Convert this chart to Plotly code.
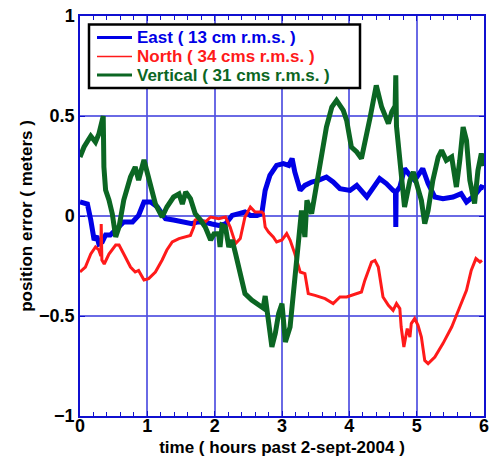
import plotly.graph_objects as go

# ---- data (hours, metres) ----
east_t = [0.0, 0.11, 0.16, 0.21, 0.25, 0.28, 0.33, 0.38, 0.45, 0.53, 0.65, 0.78, 0.87, 0.95, 1.05,
          1.15, 1.27, 1.39, 1.54, 1.66, 1.74, 1.84, 1.96, 2.06, 2.16, 2.26, 2.36, 2.45, 2.53, 2.63,
          2.70, 2.75, 2.82, 2.92, 3.02, 3.10, 3.15, 3.19, 3.27, 3.34, 3.44, 3.54, 3.66, 3.76, 3.86,
          4.01, 4.11, 4.26, 4.45, 4.55, 4.65, 4.685, 4.69, 4.695, 4.75, 4.82, 4.90, 4.97, 5.09,
          5.17, 5.27, 5.39, 5.54, 5.66, 5.74, 5.86, 5.96, 6.0]
east_v = [0.07, 0.06, -0.02, -0.12, -0.10, -0.14, -0.13, -0.095, -0.095, -0.07, -0.03, -0.03, 0.003,
          0.07, 0.07, 0.045, -0.013, -0.02, -0.03, -0.038, -0.03, -0.03, -0.04, -0.047, -0.04,
          0.003, 0.012, 0.02, 0.003, 0.003, 0.012, 0.128, 0.203, 0.253, 0.262, 0.253, 0.287, 0.22,
          0.128, 0.153, 0.17, 0.178, 0.195, 0.17, 0.137, 0.128, 0.153, 0.095, 0.187, 0.162, 0.128,
          0.12, -0.055, 0.12, 0.145, 0.237, 0.203, 0.178, 0.237, 0.162, 0.095, 0.087, 0.095, 0.112,
          0.07, 0.103, 0.145, 0.14]

north_t = [0.0, 0.08, 0.16, 0.23, 0.28, 0.31, 0.315, 0.325, 0.36, 0.43, 0.53, 0.58, 0.65, 0.75,
           0.82, 0.87, 0.95, 1.02, 1.12, 1.22, 1.29, 1.37, 1.47, 1.54, 1.64, 1.69, 1.71, 1.76,
           1.86, 1.94, 2.06, 2.16, 2.23, 2.31, 2.38, 2.45, 2.53, 2.60, 2.70, 2.725, 2.75, 2.80,
           2.87, 2.92, 3.0, 3.07, 3.12, 3.19, 3.27, 3.34, 3.39, 3.49, 3.64, 3.76, 3.86, 3.96, 4.11,
           4.18, 4.23, 4.33, 4.38, 4.43, 4.50, 4.58, 4.65, 4.70, 4.75, 4.77, 4.81, 4.86, 4.90,
           4.92, 4.97, 5.02, 5.07, 5.12, 5.17, 5.27, 5.39, 5.52, 5.64, 5.74, 5.81, 5.88, 5.94, 5.97]
north_v = [-0.28, -0.255, -0.19, -0.155, -0.17, -0.2, -0.04, -0.22, -0.24, -0.19, -0.145, -0.145,
           -0.19, -0.255, -0.28, -0.272, -0.32, -0.313, -0.28, -0.22, -0.17, -0.13, -0.113, -0.105,
           -0.097, -0.055, -0.02, -0.013, -0.03, -0.005, -0.013, -0.005, -0.055, -0.138, -0.113,
           -0.005, 0.045, 0.02, 0.02, 0.012, -0.055, -0.08, -0.105, -0.13, -0.12, -0.088, -0.12,
           -0.188, -0.28, -0.288, -0.388, -0.397, -0.413, -0.438, -0.405, -0.405, -0.388, -0.38,
           -0.322, -0.23, -0.222, -0.255, -0.405, -0.447, -0.472, -0.438, -0.463, -0.555, -0.655,
           -0.563, -0.605, -0.538, -0.513, -0.547, -0.605, -0.722, -0.738, -0.705, -0.638, -0.555,
           -0.455, -0.372, -0.272, -0.213, -0.23, -0.222]

vert_t = [0.0, 0.06, 0.16, 0.23, 0.28, 0.31, 0.345, 0.355, 0.38, 0.43, 0.48, 0.53, 0.58, 0.65,
          0.75, 0.82, 0.87, 0.95, 1.02, 1.12, 1.22, 1.29, 1.39, 1.47, 1.52, 1.57, 1.64, 1.71, 1.79,
          1.86, 1.94, 1.99, 2.06, 2.08, 2.11, 2.16, 2.21, 2.26, 2.31, 2.38, 2.45, 2.55, 2.65, 2.72,
          2.75, 2.80, 2.85, 2.90, 2.95, 3.0, 3.05, 3.12, 3.17, 3.24, 3.29, 3.34, 3.37, 3.44, 3.52,
          3.59, 3.66, 3.74, 3.81, 3.91, 3.96, 4.03, 4.11, 4.18, 4.23, 4.31, 4.40, 4.48, 4.58, 4.63,
          4.68, 4.69, 4.70, 4.75, 4.82, 4.90, 4.95, 5.02, 5.07, 5.12, 5.17, 5.24, 5.32, 5.37, 5.44,
          5.52, 5.59, 5.64, 5.69, 5.74, 5.79, 5.86, 5.91, 5.96, 6.0]
vert_v = [0.295, 0.345, 0.40, 0.37, 0.41, 0.445, 0.50, 0.245, 0.13, 0.08, 0.01, -0.105, -0.055,
          0.08, 0.195, 0.245, 0.18, 0.28, 0.18, 0.06, -0.005, 0.045, 0.095, 0.11, 0.06, 0.12,
          0.087, 0.012, -0.02, -0.055, -0.12, -0.09, -0.088, -0.155, -0.047, -0.055, -0.155, -0.12,
          -0.188, -0.288, -0.388, -0.42, -0.44, -0.46, -0.40, -0.52, -0.655, -0.588, -0.488,
          -0.438, -0.63, -0.555, -0.388, -0.155, 0.028, -0.105, 0.078, 0.012, 0.178, 0.295, 0.445,
          0.545, 0.578, 0.528, 0.478, 0.345, 0.32, 0.287, 0.362, 0.495, 0.653, 0.545, 0.462, 0.52,
          0.55, 0.703, 0.45, 0.295, 0.045, 0.178, 0.22, 0.137, 0.078, -0.038, 0.028, 0.178, 0.295,
          0.328, 0.278, 0.295, 0.145, 0.278, 0.445, 0.378, 0.178, 0.062, 0.228, 0.312, 0.25]

names = ["East ( 13 cm r.m.s. )", "North ( 34 cms r.m.s. )", "Vertical ( 31 cms r.m.s. )"]
colors = ["#0000e6", "#ff1a1a", "#0b6623"]
widths = [5, 3, 5]
legend_widths = [3, 1.5, 3]

FONT = "Liberation Sans, Arial, Helvetica, sans-serif"
AXIS_BLUE = "#1010d0"

fig = go.Figure()
for t, v, n, c, w in zip([east_t, north_t, vert_t], [east_v, north_v, vert_v], names, colors, widths):
    fig.add_trace(go.Scatter(x=t, y=v, mode="lines", line=dict(color=c, width=w),
                             name=n, showlegend=False))

axis_common = dict(
    showline=True, linecolor=AXIS_BLUE, linewidth=1.5, mirror="ticks",
    showgrid=True, gridcolor="rgba(80,80,225,0.85)", gridwidth=1.5,
    ticks="inside", tickcolor=AXIS_BLUE, ticklen=5, tickwidth=1,
    zeroline=False, automargin=False, ticklabeloverflow="allow",
    tickfont=dict(family=FONT, size=18, color="black", weight="bold"),
)

fig.update_xaxes(
    range=[0, 6], dtick=1, tick0=0, ticklabelstandoff=-7,
    minor=dict(dtick=0.2, ticks="inside", ticklen=4, tickcolor=AXIS_BLUE, showgrid=False),
    title=dict(text="time ( hours past 2-sept-2004 )",
               font=dict(family=FONT, size=17, color="black", weight="bold"), standoff=7),
    **axis_common)
fig.update_yaxes(
    range=[-1, 1], dtick=0.5, tick0=0,
    title=dict(text="position error ( meters )",
               font=dict(family=FONT, size=17, color="black", weight="bold"), standoff=2),
    **axis_common)

# ---- framed key drawn in paper coordinates of the plot area ----
PL, PR, PT, PB = 80, 484, 16, 416          # plot-area pixel bounds
def px_x(p): return (p - PL) / (PR - PL)
def px_y(p): return (PB - p) / (PB - PT)

shapes = [dict(type="rect", xref="paper", yref="paper",
               x0=px_x(89), x1=px_x(360), y0=px_y(88), y1=px_y(24.5),
               line=dict(color="black", width=2.5), fillcolor="white", layer="above")]
annotations = []
rows = [37.5, 56.5, 75.0]
for n, c, lw, ry in zip(names, colors, legend_widths, rows):
    shapes.append(dict(type="line", xref="paper", yref="paper",
                       x0=px_x(97), x1=px_x(132), y0=px_y(ry), y1=px_y(ry),
                       line=dict(color=c, width=lw), layer="above"))
    annotations.append(dict(xref="paper", yref="paper", x=px_x(135.5), y=px_y(ry + 0.3),
                            xanchor="left", yanchor="middle", showarrow=False, text=n,
                            borderpad=0,
                            font=dict(family=FONT, size=17, color=c, weight="bold")))

fig.update_layout(
    width=489, height=457,
    margin=dict(l=PL, r=489 - PR, t=PT, b=457 - PB),
    plot_bgcolor="white", paper_bgcolor="white",
    showlegend=False, shapes=shapes, annotations=annotations,
)

fig.write_html("out.html")
